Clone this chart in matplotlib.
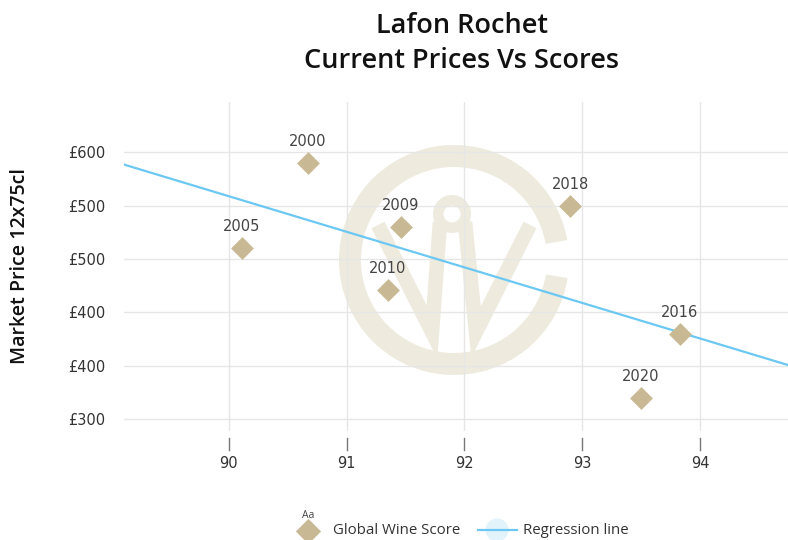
import numpy as np
import matplotlib
matplotlib.use("Agg")
import matplotlib.pyplot as plt
from matplotlib.patches import Wedge, Circle
import matplotlib.transforms as mtransforms

plt.rcParams["font.family"] = ["DejaVu Sans"]

# ---------------- data ----------------
vintages = ["2005", "2000", "2010", "2009", "2018", "2020", "2016"]
scores = [90.11, 90.67, 91.35, 91.46, 92.90, 93.50, 93.83]
prices = [510, 590, 471, 530, 550, 370, 430]

x_ticks = [90, 91, 92, 93, 94]
y_ticks = [350, 400, 450, 500, 550, 600]
y_tick_labels = ["£300", "£400", "£400", "£500", "£500", "£600"]

title_lines = ["Lafon Rochet", "Current Prices Vs Scores"]
y_label = "Market Price 12x75cl"
legend_labels = ["Global Wine Score", "Regression line"]

# ---------------- styles ----------------
W, H = 788, 540
marker_color = "#c8b994"
line_color = "#6cc8f2"
grid_color = "#e6e6e6"
wm_color = "#eeeade"
text_color = "#333333"
title_font = ["Open Sans", "DejaVu Sans"]

fig = plt.figure(figsize=(W / 100, H / 100), dpi=100)
fig.patch.set_facecolor("white")

# background pixel-space axes for watermark and legend
bg = fig.add_axes([0, 0, 1, 1], zorder=0)
bg.set_xlim(0, W)
bg.set_ylim(H, 0)
bg.axis("off")

# watermark logo
bg.add_patch(Wedge((454, 260), 115, 9, 350, width=22, facecolor=wm_color, edgecolor="none"))
bg.add_patch(Wedge((452, 214), 19, 0, 360, width=10.5, facecolor=wm_color, edgecolor="none"))
bg.plot([378, 432, 440], [225, 332, 222], color=wm_color, lw=10.5,
        solid_joinstyle="miter", solid_capstyle="butt")
bg.plot([465, 476, 530], [222, 332, 225], color=wm_color, lw=10.5,
        solid_joinstyle="miter", solid_capstyle="butt")

# main axes
left, right, top, bottom = 124, 788, 101.7, 431
ax = fig.add_axes([left / W, (H - bottom) / H, (right - left) / W, (bottom - top) / H], zorder=1)
ax.set_facecolor("none")
ax.set_xlim(89.11, 94.747)
ax.set_ylim(338.75, 647.4)
for s in ax.spines.values():
    s.set_visible(False)
ax.grid(True, color=grid_color, lw=1.0)
ax.set_axisbelow(True)

ax.set_xticks(x_ticks)
ax.set_xticklabels([str(t) for t in x_ticks])
ax.set_yticks(y_ticks)
ax.set_yticklabels(y_tick_labels)
ax.tick_params(axis="both", length=0, labelsize=10.5, labelcolor=text_color)
ax.tick_params(axis="y", pad=13.5)
ax.tick_params(axis="x", pad=18)

# x tick marks drawn below the gridlines' end
trans = mtransforms.blended_transform_factory(ax.transData, ax.transAxes)
for t in x_ticks:
    ax.plot([t, t], [-7 / (bottom - top), -19 / (bottom - top)], color="#777777",
            lw=1.0, transform=trans, clip_on=False)

# regression line
coef = np.polyfit(scores, prices, 1)
xr = np.array(ax.get_xlim())
ax.plot(xr, np.polyval(coef, xr), color=line_color, lw=1.6, zorder=2)

# points
ax.scatter(scores, prices, marker="D", s=135, color=marker_color, zorder=3, linewidths=0)
for v, x, y in zip(vintages, scores, prices):
    ax.annotate(v, (x, y), xytext=(0, 15.5), textcoords="offset points",
                ha="center", va="center", fontsize=10.5, color="#444444", zorder=4)

# titles
fig.text(461.5 / W, 1 - 33 / H, title_lines[0], ha="center", va="baseline",
         fontsize=19.5, fontweight="semibold", family=title_font, color="#111111")
fig.text(461.5 / W, 1 - 68 / H, title_lines[1], ha="center", va="baseline",
         fontsize=19.5, fontweight="semibold", family=title_font, color="#111111")
fig.text(20 / W, 1 - 266.5 / H, y_label, rotation=90, ha="center", va="center",
         fontsize=14, fontweight="semibold", family=title_font, color="#111111")

# legend (manual)
bg.text(308, 515, "Aa", ha="center", va="center", fontsize=7.5, color="#444444",
        family=title_font)
bg.scatter([308], [531], marker="D", s=165, color=marker_color, linewidths=0)
bg.text(333, 530, legend_labels[0], ha="left", va="center", fontsize=10.8,
        color=text_color, family=title_font)
bg.add_patch(Circle((497, 530), 11.5, facecolor="#e2f3fc", edgecolor="none"))
bg.plot([478, 517], [530, 530], color=line_color, lw=1.6)
bg.text(523, 530, legend_labels[1], ha="left", va="center", fontsize=10.8,
        color=text_color, family=title_font)

fig.savefig("out.png", dpi=100)
